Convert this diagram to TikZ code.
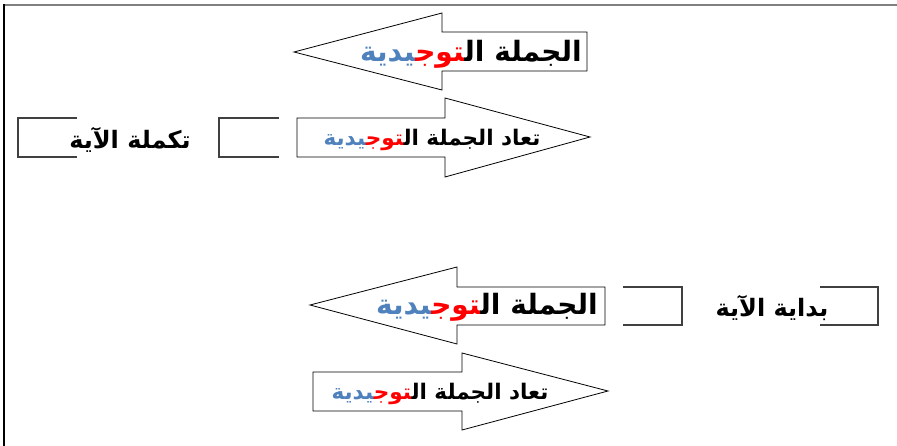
\documentclass[tikz,border=0pt]{standalone}
\usepackage{fontspec}
\usepackage{xcolor}
\usepackage{tikz}
\TeXXeTstate=1
\newfontfamily\arabicfont[Script=Arabic]{DejaVu Sans}
\definecolor{tblue}{HTML}{4F81BD}
% coloured ending of the word, pieces set right to left
\newcommand{\tawj}{{\color{tblue}\beginR ^^^^200dيدية\endR}{\color{red}\beginR ^^^^200dتوج^^^^200d\endR}}

\tikzset{
  arrowline/.style={draw=black, line width=0.8pt, line join=miter},
  bracket/.style={draw=black!75, line width=1.1pt},
  bigtxt/.style={font=\arabicfont\bfseries\fontsize{28}{32}\selectfont, inner sep=0pt},
  smalltxt/.style={font=\arabicfont\bfseries\fontsize{21.5}{25}\selectfont, inner sep=0pt},
  sidetxt/.style={font=\arabicfont\bfseries\fontsize{24}{28}\selectfont, inner sep=0pt}
}

\begin{document}
\begin{tikzpicture}[x=1pt,y=-1pt]
    \useasboundingbox (0,0) rectangle (897,446);
    % Frame
    \draw[black!50, line width=1.5pt] (3,5) -- (897,5);
    \draw[line width=1.5pt] (4,4.25) -- (4,446);

    % Upper left arrow
    \draw[arrowline] (294,52) -- (442,13) -- (442,32) -- (587,32) -- (587,71) -- (442,71) -- (442,90) -- cycle;
    \node[bigtxt] (jumlaA) at (471,54) {\tawj\beginR الجملة ال^^^^200d\endR};

    % Middle row
    \draw[arrowline] (297,118) -- (445,118) -- (445,98) -- (590,137) -- (445,177) -- (445,157) -- (297,157) -- cycle;
    \node[smalltxt] (tuadA) at (432,139.5) {\tawj\beginR تعاد الجملة ال^^^^200d\endR};
    \draw[bracket] (279,118) -- (219,118) -- (219,157) -- (279,157);
    \draw[bracket] (77,118) -- (18,118) -- (18,157) -- (77,157);
    \node[sidetxt] (takmila) at (130,140) {\beginR تكملة الآية\endR};

    % Lower left arrow
    \draw[arrowline] (310,305) -- (457,267) -- (457,287) -- (605,287) -- (605,325) -- (457,325) -- (457,344) -- cycle;
    \node[bigtxt] (jumlaB) at (487,307) {\tawj\beginR الجملة ال^^^^200d\endR};
    \draw[bracket] (623,287) -- (682,287) -- (682,325) -- (623,325);
    \draw[bracket] (820,287) -- (878,287) -- (878,325) -- (820,325);
    \node[sidetxt] (bidaya) at (772,308) {\beginR بداية الآية\endR};

    % Lower right arrow
    \draw[arrowline] (313,372) -- (462,372) -- (462,353) -- (608,391) -- (462,430) -- (462,411) -- (313,411) -- cycle;
    \node[smalltxt] (tuadB) at (440,393.5) {\tawj\beginR تعاد الجملة ال^^^^200d\endR};
\end{tikzpicture}
\end{document}
